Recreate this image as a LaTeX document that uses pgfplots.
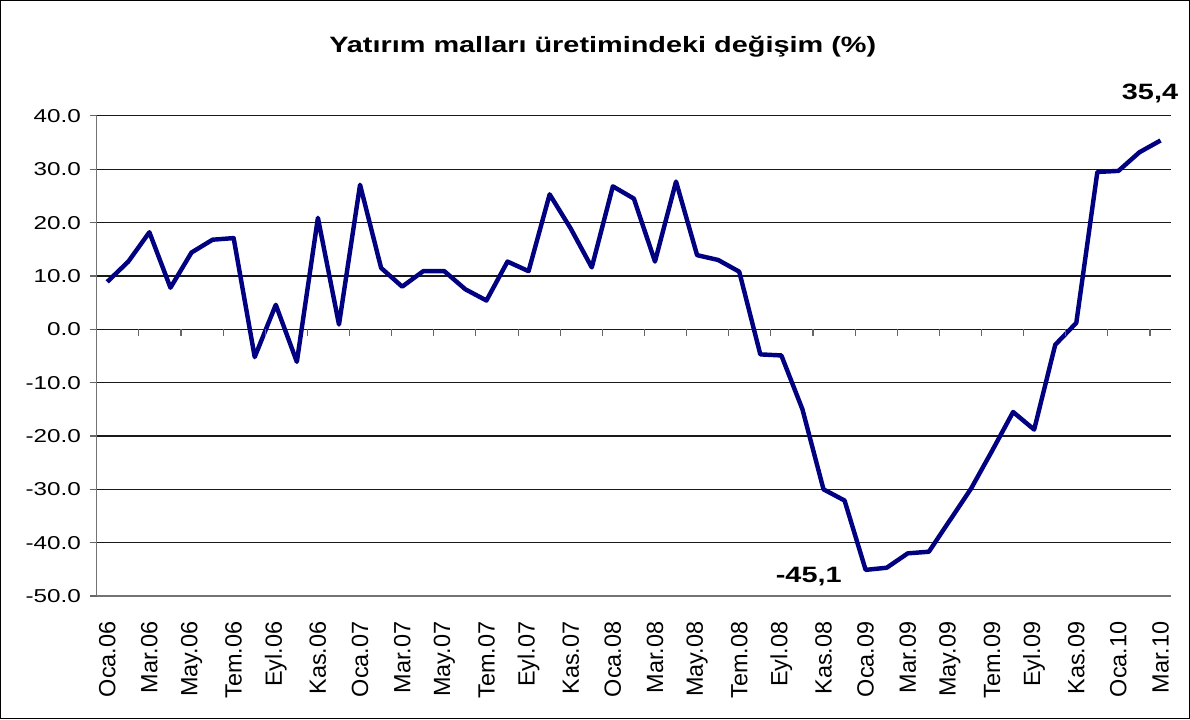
\documentclass[border=0pt]{standalone}
\usepackage{fontspec}
\setmainfont{Liberation Sans}[FakeStretch=1.3]
\newfontfamily\plainfont{Liberation Sans}
\usepackage{pgfplots}
\pgfplotsset{compat=1.18}
\definecolor{linenavy}{RGB}{0,0,128}

\begin{document}
\begin{tikzpicture}
\begin{axis}[
    width=21.26cm, height=9.5cm, scale only axis,
    xmin=-0.5, xmax=50.5,
    ymin=-50, ymax=40,
    ytick={-50,-40,...,40},
    xtick={0,2,...,50},
    xticklabels={Oca.06,Mar.06,May.06,Tem.06,Eyl.06,Kas.06,
                 Oca.07,Mar.07,May.07,Tem.07,Eyl.07,Kas.07,
                 Oca.08,Mar.08,May.08,Tem.08,Eyl.08,Kas.08,
                 Oca.09,Mar.09,May.09,Tem.09,Eyl.09,Kas.09,
                 Oca.10,Mar.10},
    axis x line*=bottom, axis y line*=left,
    axis line style={black!55, line width=0.6pt, -},
    ymajorgrids=true,
    grid style={black!90, line width=0.6pt},
    xtick style={draw=none},
    ytick style={black!60, line width=0.6pt},
    tick align=outside,
    major tick length=0.14cm,
    /pgf/number format/.cd, fixed, fixed zerofill, precision=1, assume math mode=true,
    /pgfplots/.cd,
    yticklabel style={font=\fontsize{10.5}{12}\selectfont, xshift=-0.05cm},
    xticklabel style={font=\plainfont\fontsize{13.2}{15}\selectfont, yshift=-0.24cm, rotate=90, anchor=east},
    clip=false,
]
\addplot[linenavy, line width=2.5pt, line join=round] coordinates {
(0,8.9) (1,12.7) (2,18.2) (3,7.8) (4,14.4) (5,16.8) (6,17.1) (7,-5.2)
(8,4.6) (9,-6.1) (10,20.9) (11,0.9) (12,27.1) (13,11.5) (14,8.0) (15,10.9)
(16,10.9) (17,7.5) (18,5.4) (19,12.7) (20,10.9) (21,25.3) (22,18.9) (23,11.6)
(24,26.8) (25,24.5) (26,12.7) (27,27.7) (28,13.9) (29,13.0) (30,10.8) (31,-4.7)
(32,-4.9) (33,-15.0) (34,-30.0) (35,-32.1) (36,-45.1) (37,-44.7) (38,-42.0) (39,-41.7)
(40,-35.8) (41,-29.9) (42,-22.8) (43,-15.5) (44,-18.8) (45,-2.9) (46,1.2) (47,29.5)
(48,29.7) (49,33.2) (50,35.4)
};
% category tick marks hanging from the zero line
\pgfplotsinvokeforeach{1.5,3.5,...,49.5}{
  \draw[black!60, line width=0.6pt] (axis cs:#1,0) -- ([yshift=-0.14cm]axis cs:#1,0);
}
\node[anchor=base, font=\bfseries\fontsize{12.5}{15}\selectfont]
  at (rel axis cs:0.471,1.1326) {Yatırım malları üretimindeki değişim (\%)};
\node[font=\bfseries\fontsize{12.5}{15}\selectfont] at (axis cs:49.5,44.3) {35,4};
\node[font=\bfseries\fontsize{12.5}{15}\selectfont] at (axis cs:33.3,-46.4) {-45,1};
\end{axis}
\draw[black, line width=0.8pt] (-1.9,-2.42) rectangle (21.62,11.78);
\end{tikzpicture}
\end{document}
